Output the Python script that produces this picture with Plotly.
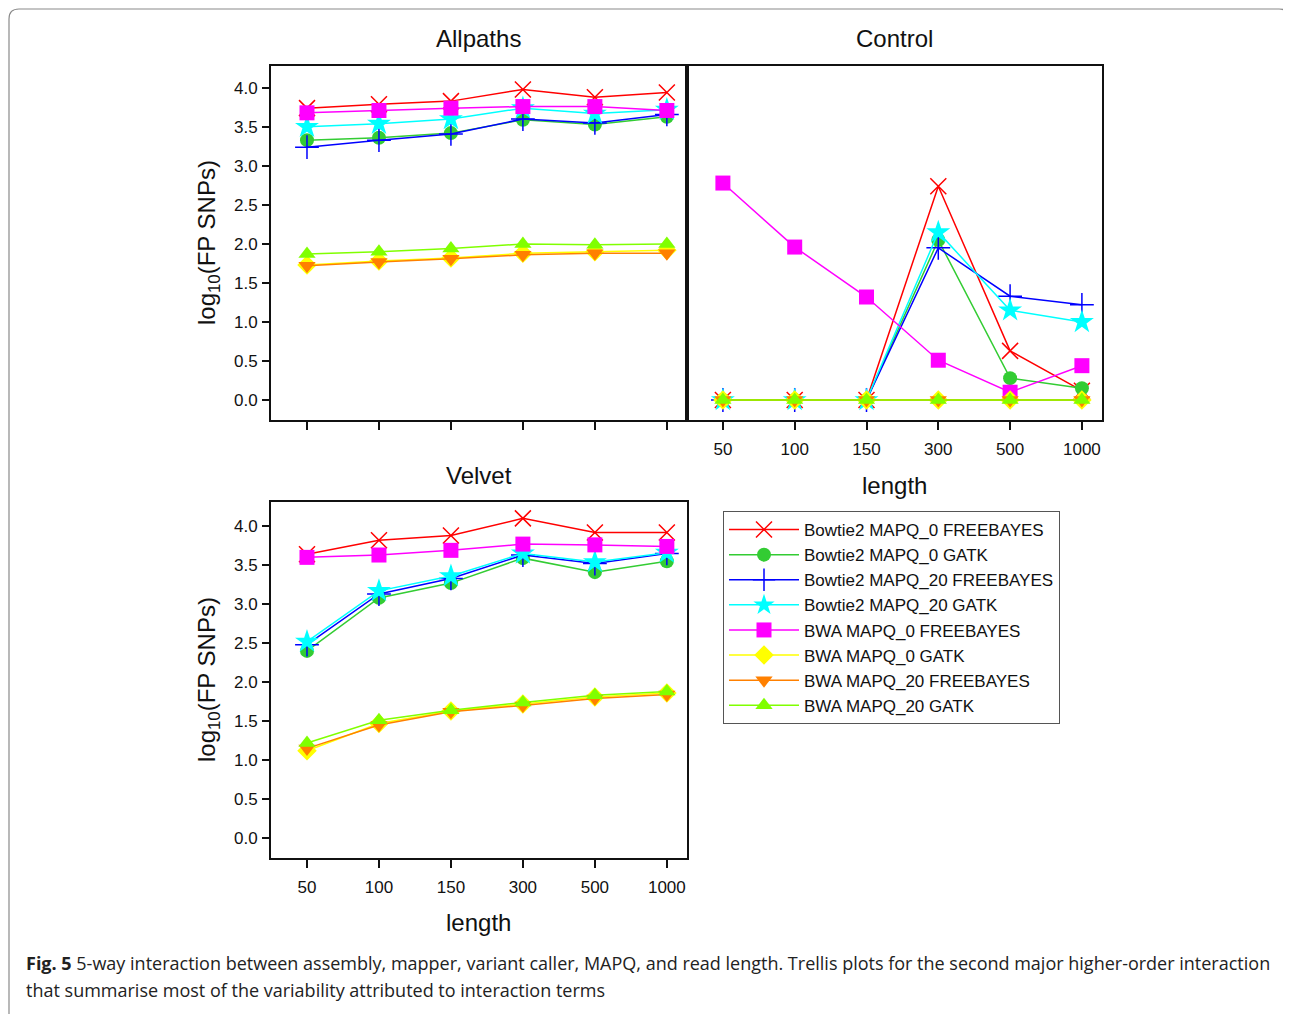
import plotly.graph_objects as go

OFF = 8  # page body margin
W, H = 1291 - OFF, 1014 - OFF

lengths = ["50", "100", "150", "300", "500", "1000"]
yticks = [0.0, 0.5, 1.0, 1.5, 2.0, 2.5, 3.0, 3.5, 4.0]

series_names = [
    "Bowtie2 MAPQ_0 FREEBAYES", "Bowtie2 MAPQ_0 GATK",
    "Bowtie2 MAPQ_20 FREEBAYES", "Bowtie2 MAPQ_20 GATK",
    "BWA MAPQ_0 FREEBAYES", "BWA MAPQ_0 GATK",
    "BWA MAPQ_20 FREEBAYES", "BWA MAPQ_20 GATK",
]
series_colors = ["#ff0000", "#33cc33", "#0000ff", "#00ffff",
                 "#ff00ff", "#ffff00", "#ff8000", "#80ff00"]
series_symbols = ["x-thin-open", "circle", "cross-thin-open", "star",
                  "square", "diamond", "triangle-down", "triangle-up"]
series_sizes = [16, 14, 17, 18, 15, 15, 15, 15]

# Allpaths
allpaths_bt2_q0_fb = [3.74, 3.79, 3.83, 3.98, 3.88, 3.94]
allpaths_bt2_q0_gatk = [3.33, 3.36, 3.42, 3.59, 3.53, 3.63]
allpaths_bt2_q20_fb = [3.24, 3.33, 3.41, 3.60, 3.55, 3.66]
allpaths_bt2_q20_gatk = [3.50, 3.54, 3.60, 3.74, 3.67, 3.72]
allpaths_bwa_q0_fb = [3.68, 3.71, 3.74, 3.76, 3.76, 3.71]
allpaths_bwa_q0_gatk = [1.73, 1.78, 1.82, 1.88, 1.90, 1.92]
allpaths_bwa_q20_fb = [1.72, 1.77, 1.81, 1.86, 1.88, 1.88]
allpaths_bwa_q20_gatk = [1.87, 1.90, 1.94, 2.00, 1.99, 2.00]

# Control
control_bt2_q0_fb = [0.0, 0.0, 0.0, 2.74, 0.63, 0.12]
control_bt2_q0_gatk = [0.0, 0.0, 0.0, 2.05, 0.28, 0.15]
control_bt2_q20_fb = [0.0, 0.0, 0.0, 1.95, 1.33, 1.22]
control_bt2_q20_gatk = [0.0, 0.0, 0.0, 2.15, 1.15, 1.00]
control_bwa_q0_fb = [2.78, 1.96, 1.32, 0.51, 0.10, 0.44]
control_bwa_q0_gatk = [0.0, 0.0, 0.0, 0.0, 0.0, 0.0]
control_bwa_q20_fb = [0.0, 0.0, 0.0, 0.0, 0.0, 0.0]
control_bwa_q20_gatk = [0.0, 0.0, 0.0, 0.0, 0.0, 0.0]

# Velvet
velvet_bt2_q0_fb = [3.64, 3.82, 3.88, 4.10, 3.92, 3.92]
velvet_bt2_q0_gatk = [2.40, 3.08, 3.27, 3.59, 3.41, 3.55]
velvet_bt2_q20_fb = [2.48, 3.13, 3.33, 3.63, 3.52, 3.65]
velvet_bt2_q20_gatk = [2.52, 3.17, 3.36, 3.65, 3.54, 3.66]
velvet_bwa_q0_fb = [3.60, 3.63, 3.69, 3.77, 3.76, 3.74]
velvet_bwa_q0_gatk = [1.12, 1.47, 1.63, 1.72, 1.81, 1.86]
velvet_bwa_q20_fb = [1.15, 1.45, 1.62, 1.70, 1.79, 1.84]
velvet_bwa_q20_gatk = [1.22, 1.51, 1.64, 1.74, 1.83, 1.88]

panels = [
    ("x", "y", [allpaths_bt2_q0_fb, allpaths_bt2_q0_gatk, allpaths_bt2_q20_fb, allpaths_bt2_q20_gatk,
                allpaths_bwa_q0_fb, allpaths_bwa_q0_gatk, allpaths_bwa_q20_fb, allpaths_bwa_q20_gatk]),
    ("x2", "y2", [control_bt2_q0_fb, control_bt2_q0_gatk, control_bt2_q20_fb, control_bt2_q20_gatk,
                  control_bwa_q0_fb, control_bwa_q0_gatk, control_bwa_q20_fb, control_bwa_q20_gatk]),
    ("x3", "y3", [velvet_bt2_q0_fb, velvet_bt2_q0_gatk, velvet_bt2_q20_fb, velvet_bt2_q20_gatk,
                  velvet_bwa_q0_fb, velvet_bwa_q0_gatk, velvet_bwa_q20_fb, velvet_bwa_q20_gatk]),
]

FONT = "Liberation Sans, Arial, sans-serif"

fig = go.Figure()
for pi, (xa, ya, data) in enumerate(panels):
    for si, vals in enumerate(data):
        sym = series_symbols[si]
        col = series_colors[si]
        thin = sym.endswith("open")
        fig.add_trace(go.Scatter(
            x=lengths, y=vals, xaxis=xa, yaxis=ya,
            mode="lines+markers", name=series_names[si],
            legendgroup=series_names[si], showlegend=(pi == 0),
            line=dict(color=col, width=1.5),
            marker=dict(symbol=sym, size=series_sizes[si], color=col,
                        line=dict(color=col, width=1.5 if thin else 0)),
        ))


def px(x):
    return (x - OFF) / W


def py(y):
    return 1 - (y - OFF) / H


ax_common = dict(showline=True, linecolor="#111", linewidth=2, mirror=True,
                 showgrid=False, zeroline=False)
xcommon = dict(type="category", categoryorder="array", categoryarray=lengths,
               range=[-0.5, 5.28], ticks="outside", ticklen=8, tickwidth=2,
               ticklabelstandoff=5,
               tickcolor="#111", tickfont=dict(family=FONT, size=17, color="#111"),
               **ax_common)
ycommon = dict(range=[-0.256, 4.28], tickvals=yticks, tickformat=".1f",
               tickfont=dict(family=FONT, size=17, color="#111"), **ax_common)

fig.update_layout(
    width=W, height=H,
    margin=dict(l=0, r=0, t=0, b=0),
    paper_bgcolor="white", plot_bgcolor="white",
    xaxis=dict(domain=[px(271), px(687)], anchor="y", showticklabels=False, **xcommon),
    yaxis=dict(domain=[py(420), py(66)], anchor="x", ticks="outside", ticklen=7,
               tickwidth=2, tickcolor="#111", ticklabelstandoff=1, **ycommon),
    xaxis2=dict(domain=[px(687), px(1102)], anchor="y2", showticklabels=True, **xcommon),
    yaxis2=dict(domain=[py(420), py(66)], anchor="x2", showticklabels=False, ticks="", **ycommon),
    xaxis3=dict(domain=[px(271), px(687)], anchor="y3", showticklabels=True, **xcommon),
    yaxis3=dict(domain=[py(858), py(502)], anchor="x3", ticks="outside", ticklen=7,
                tickwidth=2, tickcolor="#111", ticklabelstandoff=1,
                **{**ycommon, "range": [-0.256, 4.31]}),
    legend=dict(x=px(723), y=py(511), xanchor="left", yanchor="top",
                bgcolor="white", bordercolor="#555", borderwidth=1,
                font=dict(family=FONT, size=17, color="#111"),
                itemwidth=70, tracegroupgap=0),
    showlegend=True,
)

annotations = [
    dict(text="Allpaths", x=px(479), y=py(38)),
    dict(text="Control", x=px(894), y=py(38)),
    dict(text="Velvet", x=px(479), y=py(475)),
    dict(text="length", x=px(894), y=py(485)),
    dict(text="length", x=px(479), y=py(922)),
]
for a in annotations:
    fig.add_annotation(xref="paper", yref="paper", xanchor="center", yanchor="middle",
                       showarrow=False, font=dict(family=FONT, size=24, color="#111"), **a)

for yc in (243, 680):
    fig.add_annotation(xref="paper", yref="paper", x=px(208), y=py(yc),
                       xanchor="center", yanchor="middle", textangle=-90, showarrow=False,
                       text="log<sub>10</sub>(FP SNPs)",
                       font=dict(family=FONT, size=24, color="#111"))

CAP = "Open Sans, sans-serif"
fig.add_annotation(xref="paper", yref="paper", x=px(24), y=py(963), xanchor="left",
                   yanchor="middle", showarrow=False, align="left",
                   font=dict(family=CAP, size=18, color="#222"),
                   text="<b>Fig. 5</b> 5-way interaction between assembly, mapper, variant caller, MAPQ, and read length. "
                        "Trellis plots for the second major higher-order interaction")
fig.add_annotation(xref="paper", yref="paper", x=px(24), y=py(990), xanchor="left",
                   yanchor="middle", showarrow=False, align="left",
                   font=dict(family=CAP, size=18, color="#222"),
                   text="that summarise most of the variability attributed to interaction terms")

# outer rounded frame
r = 10
path = (f"M {px(9)},{py(1016)} L {px(9)},{py(9 + r)} Q {px(9)},{py(9)} {px(9 + r)},{py(9)} "
        f"L {px(1289 - r)},{py(9)} Q {px(1289)},{py(9)} {px(1289)},{py(9 + r)} L {px(1289)},{py(1016)}")
fig.add_shape(type="path", xref="paper", yref="paper", path=path,
              line=dict(color="#8a8a8a", width=1.2))

fig.write_html("out.html")
